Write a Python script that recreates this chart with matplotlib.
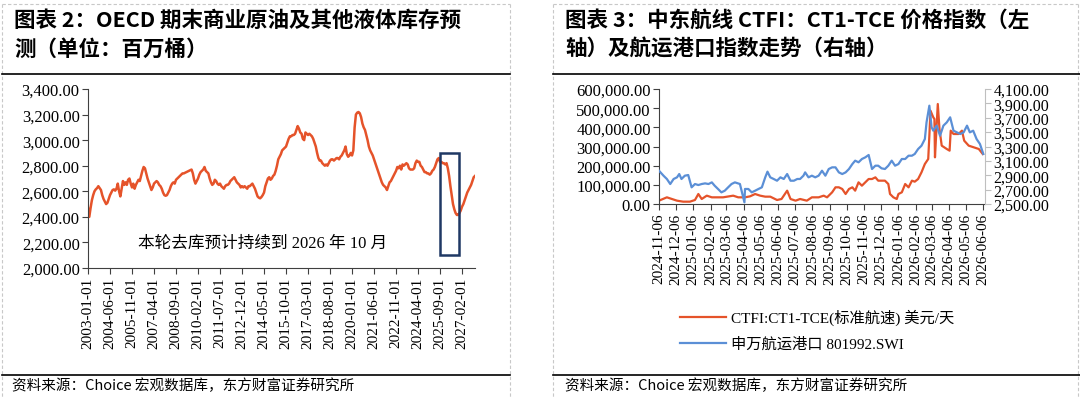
import matplotlib
matplotlib.use('Agg')
import matplotlib.pyplot as plt
from matplotlib.lines import Line2D
from matplotlib.patches import Rectangle
from matplotlib.ticker import FuncFormatter
import numpy as np
import pandas as pd

plt.rcParams['font.family'] = ['Liberation Serif', 'Noto Sans CJK SC']
CJK = ['Noto Sans CJK SC', 'DejaVu Sans']

ORANGE = '#E5532A'
BLUE = '#5B8FD6'
NAVY = '#1F3864'

# ---- left chart: OECD commercial inventory, monthly from 2003-01 (million bbl)
inventory = [
    2470, 2400, 2470, 2530, 2570, 2600, 2615, 2625, 2640, 2625, 2610, 2570,  # 2003
    2540, 2520, 2500, 2510, 2540, 2570, 2590, 2610, 2615, 2605, 2620, 2660,  # 2004
    2600, 2560, 2620, 2680, 2650, 2670, 2650, 2690, 2700, 2660, 2630, 2660,  # 2005
    2620, 2650, 2670, 2690, 2680, 2720, 2760, 2790, 2780, 2740, 2700, 2670,  # 2006
    2640, 2610, 2630, 2660, 2670, 2680, 2670, 2650, 2640, 2620, 2590, 2570,  # 2007
    2565, 2570, 2590, 2610, 2640, 2660, 2670, 2660, 2690, 2700, 2710, 2720,  # 2008
    2730, 2740, 2740, 2745, 2750, 2755, 2760, 2765, 2770, 2740, 2690, 2660,  # 2009
    2680, 2700, 2730, 2750, 2760, 2770, 2790, 2760, 2750, 2740, 2700, 2670,  # 2010
    2650, 2660, 2690, 2680, 2660, 2650, 2660, 2640, 2630, 2620, 2640, 2650,  # 2011
    2650, 2660, 2680, 2690, 2700, 2710, 2690, 2670, 2660, 2650, 2630, 2640,  # 2012
    2630, 2640, 2630, 2620, 2640, 2640, 2650, 2660, 2640, 2620, 2590, 2560,  # 2013
    2550, 2545, 2555, 2570, 2590, 2640, 2670, 2700, 2710, 2690, 2700, 2720,  # 2014
    2730, 2760, 2800, 2850, 2870, 2890, 2920, 2930, 2940, 2950, 2980, 3010,  # 2015
    3030, 3030, 3040, 3040, 3050, 3080, 3110, 3090, 3060, 3050, 3010, 3000,  # 2016
    3060, 3050, 3040, 3050, 3040, 3030, 3010, 2980, 2950, 2900, 2860, 2840,  # 2017
    2840, 2820, 2810, 2800, 2810, 2800, 2820, 2840, 2850, 2850, 2840, 2850,  # 2018
    2860, 2860, 2850, 2870, 2880, 2900, 2920, 2950, 2890, 2870, 2880, 2900,  # 2019
    2880, 2920, 3100, 3200, 3215, 3220, 3210, 3180, 3130, 3100, 3080, 3040,  # 2020
    3000, 2950, 2920, 2900, 2880, 2850, 2820, 2790, 2760, 2730, 2700, 2670,  # 2021
    2650, 2640, 2630, 2610, 2640, 2670, 2680, 2700, 2720, 2740, 2760, 2790,  # 2022
    2780, 2800, 2770, 2810, 2800, 2810, 2820, 2810, 2780, 2770, 2770, 2770,  # 2023
    2780, 2820, 2840, 2830, 2830, 2800, 2790, 2770, 2750, 2750, 2740, 2740,  # 2024
    2730, 2740, 2760, 2770, 2790, 2820, 2850, 2860, 2830, 2830, 2820, 2820,  # 2025
    2810, 2820, 2780, 2720, 2640, 2570, 2500, 2460, 2430, 2415, 2415, 2430,  # 2026
    2450, 2480, 2500, 2530, 2560, 2590, 2610, 2630, 2650, 2680, 2710, 2720,  # 2027
]
inv_tick_labels = ['2003-01-01', '2004-06-01', '2005-11-01', '2007-04-01', '2008-09-01',
                   '2010-02-01', '2011-07-01', '2012-12-01', '2014-05-01', '2015-10-01',
                   '2017-03-01', '2018-08-01', '2020-01-01', '2021-06-01', '2022-11-01',
                   '2024-04-01', '2025-09-01', '2027-02-01']
box_months = (271.6, 286.6)   # highlighted destocking window (month index)
box_values = (2100, 2900)

# ---- right chart: CTFI CT1-TCE (left axis) and SW shipping & ports index (right axis)
ctfi_dates = ['2024-11-06', '2024-11-20', '2024-11-29', '2024-12-08', '2024-12-19', '2024-12-31',
              '2025-01-09', '2025-01-15', '2025-01-21', '2025-01-30', '2025-02-08', '2025-02-16',
              '2025-02-28', '2025-03-18', '2025-03-27', '2025-04-08', '2025-04-17', '2025-04-26',
              '2025-05-05', '2025-05-14', '2025-05-23', '2025-06-04', '2025-06-12', '2025-06-22',
              '2025-06-28', '2025-07-07', '2025-07-15', '2025-07-27', '2025-08-05', '2025-08-17',
              '2025-08-26', '2025-09-01', '2025-09-10', '2025-09-16', '2025-09-22', '2025-09-28',
              '2025-10-04', '2025-10-10', '2025-10-16', '2025-10-21', '2025-10-27', '2025-11-02',
              '2025-11-08', '2025-11-14', '2025-11-20', '2025-11-26', '2025-12-01', '2025-12-07',
              '2025-12-13', '2025-12-19', '2025-12-22', '2025-12-28', '2026-01-03', '2026-01-06',
              '2026-01-12', '2026-01-18', '2026-01-24', '2026-01-30', '2026-02-04', '2026-02-10',
              '2026-02-16', '2026-02-22', '2026-02-28', '2026-03-02', '2026-03-04', '2026-03-09',
              '2026-03-11', '2026-03-12', '2026-03-14', '2026-03-17', '2026-03-20', '2026-03-24',
              '2026-04-02', '2026-04-07', '2026-04-09', '2026-04-14', '2026-04-23', '2026-04-29',
              '2026-05-03', '2026-05-11', '2026-05-20', '2026-05-29', '2026-06-05']
ctfi_values = [17400, 34800, 26100, 17400, 12200, 12200,
               20900, 52200, 26100, 43500, 34800, 34800,
               34800, 43500, 34800, 34800, 40000, 52200,
               43500, 38300, 38300, 20900, 26100, 69600,
               26100, 17400, 26100, 17400, 34800, 34800,
               43500, 34800, 60900, 87000, 87000, 78300,
               52200, 78300, 87000, 69600, 113000, 95600,
               113000, 130400, 130400, 139100, 121700, 121700,
               121700, 104300, 52200, 34800, 26100, 52200,
               60900, 104300, 87000, 121700, 116500, 130400,
               165200, 208700, 234800, 356400, 486900, 452100,
               443400, 243500, 356400, 521700, 391300, 304400,
               286900, 278300, 382600, 365200, 365200, 382600,
               330400, 304400, 295700, 286900, 260900]

swi_dates = ['2024-11-06', '2024-11-14', '2024-11-20', '2024-11-26', '2024-12-02', '2024-12-08',
             '2024-12-12', '2024-12-16', '2024-12-22', '2024-12-28', '2025-01-03', '2025-01-09',
             '2025-01-15', '2025-01-21', '2025-01-27', '2025-02-02', '2025-02-08', '2025-02-13',
             '2025-02-19', '2025-02-25', '2025-03-03', '2025-03-09', '2025-03-15', '2025-03-21',
             '2025-03-30', '2025-04-07', '2025-04-08', '2025-04-14', '2025-04-20', '2025-04-26',
             '2025-05-02', '2025-05-08', '2025-05-14', '2025-05-18', '2025-05-23', '2025-05-29',
             '2025-06-04', '2025-06-10', '2025-06-16', '2025-06-22', '2025-06-28', '2025-07-04',
             '2025-07-10', '2025-07-15', '2025-07-21', '2025-07-24', '2025-07-30', '2025-08-05',
             '2025-08-11', '2025-08-17', '2025-08-23', '2025-08-29', '2025-09-04', '2025-09-10',
             '2025-09-16', '2025-09-22', '2025-09-28', '2025-10-04', '2025-10-10', '2025-10-16',
             '2025-10-21', '2025-10-27', '2025-11-02', '2025-11-08', '2025-11-14', '2025-11-20',
             '2025-11-26', '2025-12-01', '2025-12-07', '2025-12-13', '2025-12-19', '2025-12-25',
             '2025-12-31', '2026-01-06', '2026-01-12', '2026-01-18', '2026-01-24', '2026-01-30',
             '2026-02-04', '2026-02-10', '2026-02-16', '2026-02-22', '2026-02-25', '2026-03-02',
             '2026-03-06', '2026-03-09', '2026-03-15', '2026-03-21', '2026-03-27', '2026-04-02',
             '2026-04-08', '2026-04-14', '2026-04-20', '2026-04-26', '2026-05-02', '2026-05-08',
             '2026-05-13', '2026-05-19', '2026-05-25', '2026-05-31', '2026-06-06']
swi_values = [2963, 2894, 2848, 2778, 2848, 2871,
              2917, 2848, 2894, 2903, 2732, 2778,
              2764, 2778, 2787, 2778, 2801, 2755,
              2709, 2662, 2685, 2732, 2778, 2801,
              2778, 2523, 2709, 2709, 2662, 2685,
              2709, 2732, 2871, 2950, 2871, 2848,
              2824, 2871, 2848, 2917, 2824, 2824,
              2848, 2848, 2894, 2940, 2871, 2894,
              2871, 2894, 2963, 2894, 2987, 3010,
              3010, 2940, 2917, 2940, 2987, 3056,
              3103, 3080, 3126, 3149, 3182, 2987,
              3033, 3033, 2996, 2987, 3033, 3103,
              3033, 3056, 3126, 3126, 3172, 3172,
              3196, 3265, 3311, 3404, 3636, 3868,
              3567, 3520, 3590, 3450, 3590, 3636,
              3706, 3520, 3497, 3474, 3497, 3590,
              3497, 3520, 3404, 3335, 3196]
month_ticks = ['2024-11-06', '2024-12-06', '2025-01-06', '2025-02-06', '2025-03-06',
               '2025-04-06', '2025-05-06', '2025-06-06', '2025-07-06', '2025-08-06',
               '2025-09-06', '2025-10-06', '2025-11-06', '2025-12-06', '2026-01-06',
               '2026-02-06', '2026-03-06', '2026-04-06', '2026-05-06', '2026-06-06']

W, H = 1080, 402
fig = plt.figure(figsize=(W / 100, H / 100), dpi=100)


def px_rect(x0, y0, x1, y1):
    return [x0 / W, 1 - y1 / H, (x1 - x0) / W, (y1 - y0) / H]


def hline(x0, x1, y, **kw):
    fig.add_artist(Line2D([x0 / W, x1 / W], [1 - y / H, 1 - y / H], **kw))


def vline(x, y0, y1, **kw):
    fig.add_artist(Line2D([x / W, x / W], [1 - y0 / H, 1 - y1 / H], **kw))


money = FuncFormatter(lambda v, p: f'{v:,.2f}')

# panel frames (light dashed), title rules and footer rules
dash = dict(color='#C8C8C8', lw=0.8, ls=(0, (3, 2)))
hline(2, 510, 5, **dash)
vline(2, 5, 398, **dash)
vline(510, 5, 398, **dash)
hline(553, 1078, 5, **dash)
vline(553, 5, 398, **dash)
vline(1078, 5, 398, **dash)
for x0, x1 in [(2, 510), (553, 1080)]:
    hline(x0, x1, 75, color='black', lw=1.2)
    hline(x0, x1, 376, color='black', lw=1.2)

# titles
tkw = dict(family=CJK, fontsize=15.5, weight='bold', va='center')
fig.text(14 / W, 1 - 20 / H, '图表 2：OECD 期末商业原油及其他液体库存预', **tkw)
fig.text(14 / W, 1 - 49 / H, '测（单位：百万桶）', **tkw)
fig.text(565 / W, 1 - 20 / H, '图表 3：中东航线 CTFI：CT1-TCE 价格指数（左', **tkw)
fig.text(565 / W, 1 - 49 / H, '轴）及航运港口指数走势（右轴）', **tkw)

# sources
for x0 in (12, 565):
    fig.text(x0 / W, 1 - 386 / H, '资料来源：Choice 宏观数据库，东方财富证券研究所',
             family=CJK, fontsize=10.5, va='center')

# ---- left chart
ax1 = fig.add_axes(px_rect(88, 90, 475, 269))
months = np.arange(len(inventory))
ax1.plot(months, inventory, color=ORANGE, lw=1.8)
ax1.set_xlim(0, 299)
ax1.set_ylim(2000, 3400)
ax1.set_yticks(np.arange(2000, 3401, 200))
ax1.yaxis.set_major_formatter(money)
tick_pos = [17 * i for i in range(len(inv_tick_labels))]
ax1.set_xticks(tick_pos)
ax1.set_xticklabels(inv_tick_labels, rotation=90)
for s in ('top', 'right'):
    ax1.spines[s].set_visible(False)
for s in ('left', 'bottom'):
    ax1.spines[s].set_color('#404040')
ax1.tick_params(direction='out', length=4, labelsize=11, color='#404040', pad=2)
ax1.tick_params(axis='y', labelsize=12)
ax1.add_patch(Rectangle((box_months[0], box_values[0]), box_months[1] - box_months[0],
                        box_values[1] - box_values[0], fill=False, ec=NAVY, lw=1.8, zorder=3))
ax1.text(135, 2200, '本轮去库预计持续到 2026 年 10 月', fontsize=12,
         ha='center', va='center')

# ---- right chart
ax2 = fig.add_axes(px_rect(659, 90, 985, 205))
l1, = ax2.plot(pd.to_datetime(ctfi_dates), ctfi_values, color=ORANGE, lw=1.6)
ax2.set_ylim(0, 600000)
ax2.set_yticks(np.arange(0, 600001, 100000))
ax2.yaxis.set_major_formatter(money)
ax2.set_xlim(pd.Timestamp('2024-11-06'), pd.Timestamp('2026-06-09'))
ax2.set_xticks(pd.to_datetime(month_ticks))
ax2.set_xticklabels(month_ticks, rotation=90)
ax2.tick_params(direction='out', length=4, labelsize=11, color='#404040', pad=2)
ax2.tick_params(axis='y', labelsize=12)

ax3 = ax2.twinx()
l2, = ax3.plot(pd.to_datetime(swi_dates), swi_values, color=BLUE, lw=1.6)
ax3.set_ylim(2500, 4100)
ax3.set_yticks(np.arange(2500, 4101, 200))
ax3.yaxis.set_major_formatter(money)
ax3.tick_params(direction='out', length=4, labelsize=11.5, color='#BFBFBF', pad=2)
for a in (ax2, ax3):
    a.spines['top'].set_visible(False)
ax2.spines['right'].set_visible(False)
ax3.spines['left'].set_visible(False)
ax3.spines['bottom'].set_visible(False)
ax3.spines['right'].set_color('#BFBFBF')
ax2.spines['left'].set_color('#404040')
ax2.spines['bottom'].set_color('#404040')

fig.legend([l1, l2], ['CTFI:CT1-TCE(标准航速) 美元/天', '申万航运港口 801992.SWI'],
           loc='upper left', bbox_to_anchor=(680 / W, 1 - 310 / H), frameon=False,
           fontsize=11, handlelength=3.0, handletextpad=0.35, labelspacing=0.75,
           borderpad=0, borderaxespad=0)

fig.savefig('out.png', dpi=100)
